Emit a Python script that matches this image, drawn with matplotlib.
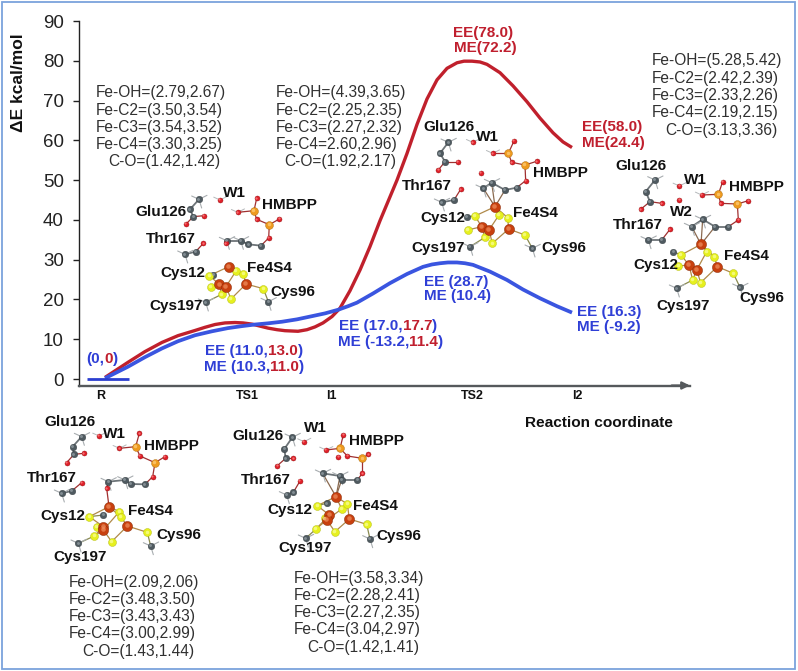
import matplotlib
matplotlib.use("Agg")
import matplotlib.pyplot as plt
from matplotlib.patches import Rectangle

plt.rcParams['font.family'] = ['Liberation Sans', 'DejaVu Sans']

W, H = 798, 671
BLUE = '#2f3fd6'
RED = '#c01f2e'
CURVE_BLUE = '#3a55e0'
CURVE_RED = '#c0202c'

# ---------- energy profile (reaction coordinate, kcal/mol) ----------
tick_pos = [101, 247, 331, 472, 577]
tick_labels = ['R', 'TS1', 'I1', 'TS2', 'I2']
y_ticks = [0, 10, 20, 30, 40, 50, 60, 70, 80, 90]

red_x = [105, 128, 145, 162, 178, 195, 205, 215, 225, 235, 243, 252, 260, 268, 277, 285, 298, 307, 315,
         323, 332, 340, 350, 360, 370, 380, 390, 397, 407, 417, 427, 437, 447, 457, 464, 472, 480, 487,
         500, 513, 527, 540, 553, 563, 572]
red_y = [0.4, 4.2, 6.9, 9.2, 10.9, 12.2, 13.0, 13.7, 14.1, 14.2, 14.1, 13.8, 13.3, 12.8, 12.4, 12.15, 12.0, 12.4, 13.1,
         14.1, 15.7, 17.8, 22.2, 27.4, 33.3, 39.8, 45.8, 50.0, 56.7, 64.0, 70.4, 75.2, 78.1, 79.5, 79.9, 79.9, 79.7, 79.1,
         77.0, 73.7, 69.7, 65.6, 61.9, 59.6, 58.2]
blue_x = [105, 128, 145, 162, 178, 195, 212, 228, 242, 255, 268, 282, 297, 312, 325, 338, 348, 357, 373, 390,
          407, 423, 432, 440, 448, 457, 465, 473, 490, 507, 523, 540, 557, 572]
blue_y = [0.2, 3.1, 5.5, 7.7, 9.5, 11.0, 12.0, 12.8, 13.3, 13.7, 14.0, 14.4, 15.0, 15.8, 16.5, 17.4, 18.3, 19.2, 21.5, 24.1,
          26.4, 28.2, 28.8, 29.1, 29.3, 29.3, 29.1, 28.7, 27.0, 24.9, 22.5, 20.3, 18.3, 16.7]
base_x = [87, 129]
base_y = [0, 0]

# ---------- texts ----------
geom_blocks = [
    (96, 92.7, 108, ['Fe-OH=(2.79,2.67)', 'Fe-C2=(3.50,3.54)', 'Fe-C3=(3.54,3.52)', 'Fe-C4=(3.30,3.25)', 'C-O=(1.42,1.42)']),
    (276, 92.7, 284, ['Fe-OH=(4.39,3.65)', 'Fe-C2=(2.25,2.35)', 'Fe-C3=(2.27,2.32)', 'Fe-C4=2.60,2.96)', 'C-O=(1.92,2.17)']),
    (652, 61, 665, ['Fe-OH=(5.28,5.42)', 'Fe-C2=(2.42,2.39)', 'Fe-C3=(2.33,2.26)', 'Fe-C4=(2.19,2.15)', 'C-O=(3.13,3.36)']),
    (69, 582, 82, ['Fe-OH=(2.09,2.06)', 'Fe-C2=(3.48,3.50)', 'Fe-C3=(3.43,3.43)', 'Fe-C4=(3.00,2.99)', 'C-O=(1.43,1.44)']),
    (294, 578, 307, ['Fe-OH=(3.58,3.34)', 'Fe-C2=(2.28,2.41)', 'Fe-C3=(2.27,2.35)', 'Fe-C4=(3.04,2.97)', 'C-O=(1.42,1.41)']),
]
energy_labels = [
    (453, 33, [('EE(78.0)', RED)]),
    (454, 48, [('ME(72.2)', RED)]),
    (582, 127, [('EE(58.0)', RED)]),
    (582, 143, [('ME(24.4)', RED)]),
    (424, 282, [('EE (28.7)', BLUE)]),
    (424, 296, [('ME (10.4)', BLUE)]),
    (577, 312, [('EE (16.3)', BLUE)]),
    (577, 327, [('ME (-9.2)', BLUE)]),
    (86, 359, [('(0,', BLUE), ('0', RED), (')', BLUE)]),
    (205, 351, [('EE (11.0,', BLUE), ('13.0', RED), (')', BLUE)]),
    (204, 367, [('ME (10.3,', BLUE), ('11.0', RED), (')', BLUE)]),
    (339, 326, [('EE (17.0,', BLUE), ('17.7', RED), (')', BLUE)]),
    (338, 342, [('ME (-13.2,', BLUE), ('11.4', RED), (')', BLUE)]),
]
residue_labels = [
    ('Glu126', 135, 212), ('W1', 223, 193), ('HMBPP', 262, 205), ('Thr167', 146, 239),
    ('Cys12', 160, 273), ('Fe4S4', 247, 268), ('Cys96', 270, 292), ('Cys197', 149, 306),
    ('Glu126', 423, 127), ('W1', 476, 137), ('HMBPP', 533, 173), ('Thr167', 402, 186),
    ('Cys12', 420, 218), ('Fe4S4', 513, 213), ('Cys96', 541, 248), ('Cys197', 411, 248),
    ('Glu126', 615, 166), ('W1', 684, 180), ('HMBPP', 729, 187), ('W2', 670, 212),
    ('Thr167', 613, 225), ('Cys12', 633, 265), ('Fe4S4', 724, 256), ('Cys96', 739, 298),
    ('Cys197', 656, 306),
    ('Glu126', 44, 422), ('W1', 103, 434), ('HMBPP', 144, 446), ('Thr167', 27, 478),
    ('Cys12', 40, 516), ('Fe4S4', 128, 511), ('Cys96', 156, 535), ('Cys197', 53, 557),
    ('Glu126', 232, 436), ('W1', 304, 428), ('HMBPP', 349, 441), ('Thr167', 241, 480),
    ('Cys12', 267, 510), ('Fe4S4', 353, 506), ('Cys96', 376, 536), ('Cys197', 278, 548),
]

# ---------- molecule sketches (read from 3x crops: origin + crop coords / 3) ----------
# carbon: c0 c1 c2 | t0 t1 | h0 h1 h2 h3 | cys197 cys96 cys12
# oxygen: water cO1 cO2 OH Otop bridge P2O link thrO extra
# iron: Fe0..Fe3    sulfur: s0..s6    phosphorus: P1 P2
molecules = [
    dict(origin=(0, 0), fe_link='none',
         C=[(597,598),(570,628),(580,650),(555,763),(587,755),(680,722),(722,722),(745,733),(783,737),(617,907),(805,905),(640,825)],
         O=[(660,600),(612,647),(558,672),(713,637),(770,595),(770,658),(838,657),(806,714),(610,730),(677,730)],
         P=[(762,632),(808,674)],
         Fe=[(686,800),(738,852),(658,853),(678,860)],
         S=[(628,827),(708,813),(730,822),(632,860),(665,883),(693,897),(790,866)]),
    dict(origin=(400, 0), fe_link='carbon',
         C=[(145,427),(120,460),(135,485),(125,607),(162,600),(250,565),(275,548),(315,570),(350,563),(210,740),(397,745),(200,650)],
         O=[(218,427),(173,485),(115,510),(278,460),(342,423),(335,487),(410,484),(377,542),(182,568),(243,518)],
         P=[(325,460),(375,495)],
         Fe=[(285,620),(326,687),(245,680),(267,690)],
         S=[(225,648),(297,645),(323,653),(203,690),(255,712),(277,730),(375,705)]),
    dict(origin=(400, 0), fe_link='carbon',
         C=[(765,540),(737,575),(750,605),(745,720),(785,720),(875,680),(908,658),(945,680),(985,680),(830,865),(1020,862),(820,755)],
         O=[(838,558),(785,610),(722,628),(905,585),(968,545),(962,610),(1045,602),(1015,660),(810,688),(838,600)],
         P=[(955,583),(1012,612)],
         Fe=[(903,733),(952,800),(867,795),(890,810)],
         S=[(843,765),(920,755),(943,770),(835,798),(878,840),(902,848),(1000,820)]),
    dict(origin=(0, 330), fe_link='oxygen',
         C=[(245,320),(218,350),(222,373),(185,490),(215,483),(325,455),(375,450),(393,462),(435,463),(235,640),(452,648),(310,555)],
         O=[(297,318),(252,370),(200,398),(358,355),(418,310),(420,378),(495,380),(458,440),(245,458),(320,475)],
         P=[(407,350),(465,398)],
         Fe=[(327,530),(382,588),(310,590),(310,600)],
         S=[(268,560),(358,545),(362,560),(290,590),(283,618),(335,635),(442,607)]),
    dict(origin=(0, 330), fe_link='carbon',
         C=[(877,322),(853,357),(857,385),(860,495),(880,487),(968,430),(1020,438),(1025,450),(1072,450),(917,625),(1110,627),(980,520)],
         O=[(912,335),(880,385),(832,407),(978,360),(1030,315),(1042,378),(1105,373),(1087,430),(900,453),(1015,380)],
         P=[(1020,355),(1087,385)],
         Fe=[(1008,500),(1048,567),(988,555),(980,570)],
         S=[(952,527),(1025,537),(1042,522),(975,565),(948,597),(1005,605),(1100,583)]),
]
hydrogen_stubs = [(24, -12), (-22, -10), (8, 26)]

fig = plt.figure(figsize=(W / 100, H / 100), dpi=100, facecolor='white')

# main chart
ax = fig.add_axes([79 / W, (H - 385.5) / H, (690 - 79) / W, (385.5 - 21) / H])
ax.set_xlim(79, 690)
ax.set_ylim(-1.63, 90)
ax.patch.set_alpha(0)
for s in ['top', 'right']:
    ax.spines[s].set_visible(False)
ax.spines['left'].set_color('#222222')
ax.spines['left'].set_linewidth(1.0)
ax.spines['bottom'].set_color('#55595c')
ax.spines['bottom'].set_linewidth(1.7)
ax.set_yticks(y_ticks)
ax.tick_params(axis='y', length=4.5, width=1.0, color='#222222', pad=6.5, labelsize=13.5, labelcolor='#222222')
ax.set_xticks(tick_pos)
ax.set_xticklabels(tick_labels, fontsize=9, fontweight='bold', color='#111111')
ax.tick_params(axis='x', length=0, pad=3)
ax.plot(red_x, red_y, color=CURVE_RED, lw=2.4, solid_capstyle='butt', solid_joinstyle='round', zorder=3)
ax.plot(blue_x, blue_y, color=CURVE_BLUE, lw=2.7, solid_capstyle='butt', solid_joinstyle='round', zorder=4)
ax.plot(base_x, base_y, color='#2b3fd0', lw=2.0, solid_capstyle='butt', zorder=5)
ax.annotate('', xy=(1.0, 0), xytext=(0.97, 0), xycoords='axes fraction',
            arrowprops=dict(arrowstyle='-|>,head_width=0.22,head_length=0.45', color='#55595c', lw=1.6,
                            shrinkA=0, shrinkB=0), annotation_clip=False)

# overlay in image pixels for sketches and annotations
ov = fig.add_axes([0, 0, 1, 1], zorder=5)
ov.set_xlim(0, W)
ov.set_ylim(H, 0)
ov.axis('off')
ov.patch.set_alpha(0)
ov.add_patch(Rectangle((2, 2), W - 5, H - 4, fill=False, ec='#7ba3dc', lw=1.3))


def px(mol, pts):
    ox, oy = mol['origin']
    return [(ox + a / 3, oy + b / 3) for a, b in pts]


def link(p, q, color, lw=0.9):
    ov.plot([p[0], q[0]], [p[1], q[1]], color=color, lw=lw, solid_capstyle='round', zorder=2)


def atoms(pts, color, size, edge, shine):
    ov.scatter([p[0] for p in pts], [p[1] for p in pts], s=size, c=color, edgecolors=edge, linewidths=0.3, zorder=3)
    ov.scatter([p[0] - 0.7 for p in pts], [p[1] - 0.7 for p in pts], s=size * 0.2, c=shine, linewidths=0,
               alpha=0.7, zorder=3.1)


for mol in molecules:
    C, O, P, Fe, S = (px(mol, mol[k]) for k in ('C', 'O', 'P', 'Fe', 'S'))
    for a, b in [(0, 1), (1, 2), (3, 4), (5, 6), (6, 7), (7, 8)]:
        link(C[a], C[b], '#6d7478', 1.3)
    for p, q in [(C[2], O[1]), (C[2], O[2]), (C[4], O[8]), (C[8], O[7]), (O[7], P[1]), (P[1], O[5]),
                 (P[1], O[6]), (O[5], P[0]), (P[0], O[3]), (P[0], O[4])]:
        link(p, q, '#a03030')
    if mol['fe_link'] == 'carbon':
        link(Fe[0], C[6], '#8a6a50'); link(Fe[0], C[5], '#8a6a50'); link(Fe[0], C[7], '#8a6a50')
    elif mol['fe_link'] == 'oxygen':
        link(Fe[0], O[9], '#a03030'); link(O[9], C[5], '#a03030')
    for a, b in [(0, 0), (0, 1), (0, 2), (1, 2), (1, 6), (1, 5), (2, 0), (2, 3), (2, 4), (3, 1), (3, 5), (3, 4)]:
        link(Fe[a], S[b], '#b08a4a', 0.9)
    link(S[6], C[10], '#8a8a50'); link(S[4], C[9], '#8a8a50'); link(S[0], C[11], '#8a8a50')
    for i in (0, 3, 5, 6, 9, 10):
        for dx, dy in hydrogen_stubs:
            tip = (C[i][0] + dx / 3, C[i][1] + dy / 3)
            link(C[i], tip, '#a8adb0', 0.8)
    for i in (0, 3):
        for dx, dy in hydrogen_stubs:
            link(O[i], (O[i][0] + dx / 3.5, O[i][1] + dy / 3.5), '#b5b9bb', 0.7) if dy < 0 else None
    atoms(C, '#4f5a60', 22, '#30383c', '#9aa4aa')
    atoms(O, '#e0202a', 13, '#901010', '#ff9090')
    atoms(P, '#ee9a1e', 32, '#a86a10', '#ffd080')
    atoms(S, '#e6f01e', 33, '#b0b810', '#fbffa0')
    atoms(Fe, '#c8400f', 54, '#802808', '#f09060')

# geometry blocks
for x, y0, xco, lines in geom_blocks:
    for i, line in enumerate(lines):
        ov.text(xco if i == 4 else x, y0 + i * 17.3, line, fontsize=11.2, color='#303030',
                ha='left', va='center', zorder=6)

# residue names
for name, x, y in residue_labels:
    ov.text(x, y, name, fontsize=11, fontweight='bold', color='#111111', ha='left', va='center', zorder=6)

# energies, with coloured runs
fig.canvas.draw()
renderer = fig.canvas.get_renderer()
inv = ov.transData.inverted()
for x, y, runs in energy_labels:
    cur = x
    for s, col in runs:
        t = ov.text(cur, y, s, fontsize=11, fontweight='bold', color=col, ha='left', va='center', zorder=6)
        bb = t.get_window_extent(renderer)
        cur = inv.transform((bb.x1, bb.y0))[0]

ov.text(19, 83, 'ΔE kcal/mol', fontsize=12.5, fontweight='bold', rotation=90, color='#111111',
        ha='center', va='center', zorder=6)
ov.text(525, 423, 'Reaction coordinate', fontsize=11.1, fontweight='bold', color='#111111',
        ha='left', va='center', zorder=6)

fig.savefig('out.png', dpi=100)
